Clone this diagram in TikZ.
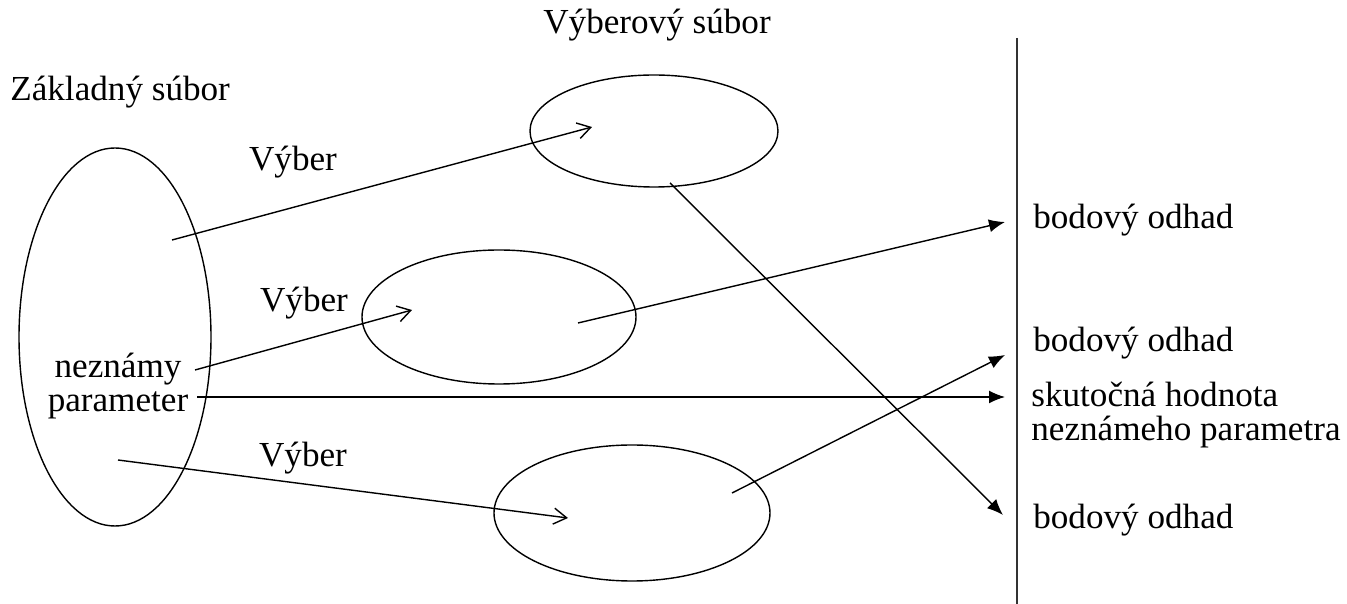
\documentclass[tikz,border=0pt]{standalone}
\usepackage{fontspec}
\setmainfont{Liberation Serif}
\usepackage{tikz}
\usetikzlibrary{arrows.meta,positioning}
\tikzset{
  vyber/.style={-{Straight Barb[length=0.26cm,width=0.32cm,line width=0.8pt]},line width=0.8pt},
  odhad/.style={-{Latex[length=0.32cm,width=0.26cm]},line width=0.8pt},
  txt/.style={font=\fontsize{20}{19}\selectfont,inner sep=0pt}
}
\begin{document}
\begin{tikzpicture}[x=0.02cm,y=-0.02cm]
\useasboundingbox (0,0) rectangle (1347,604);
% mnoziny
\draw[line width=0.8pt] (115,337) ellipse [x radius=96,y radius=189];
\draw[line width=0.8pt] (654,131) ellipse [x radius=124,y radius=56];
\draw[line width=0.8pt] (499,317) ellipse [x radius=137,y radius=67];
\draw[line width=0.8pt] (632,513) ellipse [x radius=138,y radius=68];
% os
\coordinate (osH) at (1017,38);
\coordinate (osD) at (1017,604);
\draw[line width=1pt,black!80] (osH)--(osD);
% popisy
\node[txt,anchor=west] (zakl) at (10,92) {Základný súbor};
\node[txt,anchor=west] (vyb) at (543,25) {Výberový súbor};
\node[txt] (v1) at (293,162) {Výber};
\node[txt] (v2) at (304,303) {Výber};
\node[txt] (v3) at (303,458) {Výber};
\node[txt,align=center] (par) at (118,386) {neznámy\\parameter};
\node[txt,anchor=west] (b1) at (1033,220) {bodový odhad};
\node[txt,anchor=west] (b2) at (1033,343) {bodový odhad};
\node[txt,anchor=west,align=left] (sk) at (1031,415) {skutočná hodnota\\neznámeho parametra};
\node[txt,anchor=west] (b3) at (1033,520) {bodový odhad};
% body sipiek
\coordinate (z1) at (172,240);
\coordinate (k1) at (592,127);
\coordinate (z2) at (195,370);
\coordinate (k2) at (412,310);
\coordinate (z3) at (197,397);
\coordinate (z4) at (118,460);
\coordinate (k4) at (568,518);
\coordinate (o1) at (1005,222);
\coordinate (o2) at (1005,355);
\coordinate (o3) at (1005,397);
\coordinate (o4) at (1003,515);
\coordinate (s1) at (578,323);
\coordinate (s2) at (670,183);
\coordinate (s3) at (732,493);
% sipky
\draw[vyber] (z1)--(k1);
\draw[vyber] (z2)--(k2);
\draw[vyber] (z4)--(k4);
\draw[odhad] (z3)--(o3);
\draw[odhad] (s1)--(o1);
\draw[odhad] (s2)--(o4);
\draw[odhad] (s3)--(o2);
\end{tikzpicture}
\end{document}
